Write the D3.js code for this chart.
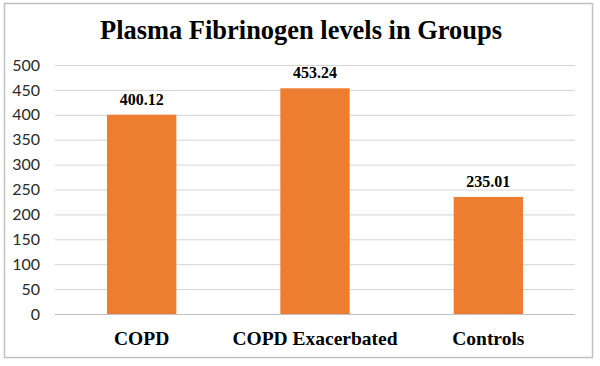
<!DOCTYPE html>
<html><head><meta charset="utf-8">
<script src="https://cdn.jsdelivr.net/npm/d3@7"></script>
<style>body{margin:0;background:#fff}</style>
</head><body>
<svg id="c" width="600" height="366"></svg>
<script>
const categories = ["COPD", "COPD Exacerbated", "Controls"];
const values = [400.12, 453.24, 235.01];
const yTicks = [0, 50, 100, 150, 200, 250, 300, 350, 400, 450, 500];
const title = "Plasma Fibrinogen levels in Groups";

const svg = d3.select("#c");
svg.append("rect").attr("x", 4.5).attr("y", 3.5).attr("width", 588).attr("height", 354)
  .attr("fill", "#fff").attr("stroke", "#c0c0c0").attr("stroke-width", 1.5);

const m = {left: 55, right: 575, top: 65, bottom: 314};
const x = d3.scaleBand().domain(categories).range([m.left, m.right]).paddingInner(0.6).paddingOuter(0.3);
const y = d3.scaleLinear().domain([0, 500]).range([m.bottom, m.top]);

svg.append("text").attr("x", 301).attr("y", 39).attr("text-anchor", "middle")
  .attr("font-family", "Liberation Serif, Times New Roman, serif").attr("font-weight", "bold")
  .attr("font-size", 28).attr("fill", "#000")
  .attr("textLength", 402).attr("lengthAdjust", "spacingAndGlyphs").text(title);

const ya = svg.append("g").attr("transform", `translate(${m.left},0)`)
  .call(d3.axisLeft(y).tickValues(yTicks).tickSize(-(m.right - m.left)).tickPadding(15));
ya.select(".domain").remove();
ya.selectAll(".tick line").attr("stroke", "#d4d4d4").attr("stroke-width", 1);
ya.selectAll(".tick text").attr("font-family", "Lato, Carlito, Liberation Sans, sans-serif")
  .attr("font-size", 16).attr("fill", "#2a2a2a");

svg.append("g").selectAll("rect").data(values).join("rect")
  .attr("x", (d, i) => x(categories[i])).attr("width", x.bandwidth())
  .attr("y", d => y(d)).attr("height", d => y(0) - y(d)).attr("fill", "#ED7D31");

svg.append("line").attr("x1", m.left).attr("x2", m.right).attr("y1", y(0)+0.5).attr("y2", y(0)+0.5)
  .attr("stroke", "#bfbfbf");

svg.append("g").selectAll("text").data(values).join("text")
  .attr("x", (d, i) => x(categories[i]) + x.bandwidth() / 2).attr("y", d => y(d) - 10)
  .attr("text-anchor", "middle").attr("font-family", "Liberation Serif, Times New Roman, serif")
  .attr("font-weight", "bold").attr("font-size", 16).attr("fill", "#000")
  .text(d => d.toFixed(2));

svg.append("g").selectAll("text").data(categories).join("text")
  .attr("x", d => x(d) + x.bandwidth() / 2).attr("y", 345)
  .attr("text-anchor", "middle").attr("font-family", "Liberation Serif, Times New Roman, serif")
  .attr("font-weight", "bold").attr("font-size", 19.5).attr("fill", "#000")
  .text(d => d);
</script>
</body></html>
